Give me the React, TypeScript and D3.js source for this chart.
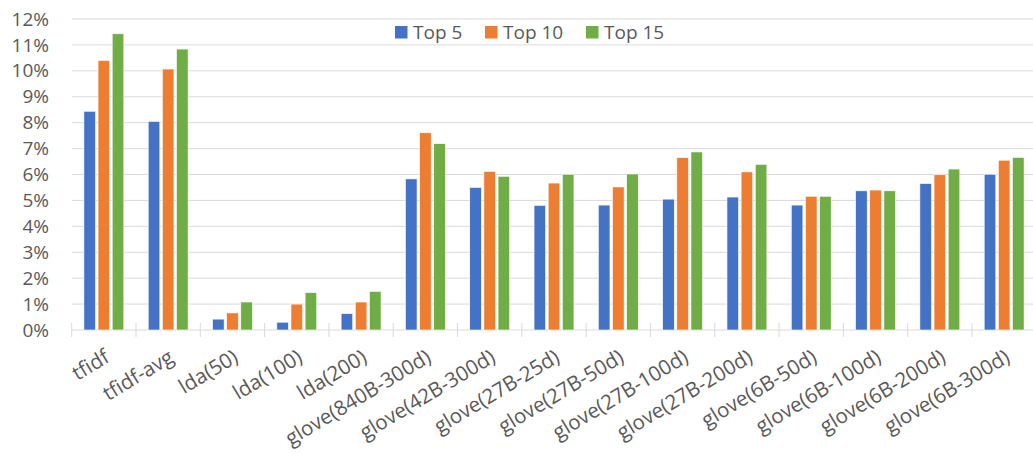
import React from "react";
import * as d3 from "d3";

const categories = [
  "tfidf", "tfidf-avg", "lda(50)", "lda(100)", "lda(200)",
  "glove(840B-300d)", "glove(42B-300d)", "glove(27B-25d)", "glove(27B-50d)",
  "glove(27B-100d)", "glove(27B-200d)", "glove(6B-50d)", "glove(6B-100d)",
  "glove(6B-200d)", "glove(6B-300d)",
];
const seriesNames = ["Top 5", "Top 10", "Top 15"];
const top5 = [8.44, 8.05, 0.42, 0.30, 0.63, 5.83, 5.50, 4.81, 4.82, 5.05, 5.13, 4.82, 5.37, 5.65, 6.01];
const top10 = [10.40, 10.07, 0.66, 1.00, 1.08, 7.61, 6.12, 5.67, 5.52, 6.65, 6.10, 5.16, 5.40, 5.99, 6.55];
const top15 = [11.43, 10.84, 1.08, 1.44, 1.49, 7.19, 5.93, 6.01, 6.02, 6.87, 6.39, 5.16, 5.37, 6.21, 6.66];
const yTicks = [0, 1, 2, 3, 4, 5, 6, 7, 8, 9, 10, 11, 12];
const colors = ["#4472C4", "#ED7D31", "#70AD47"];

const W = 1033;
const H = 455;
const left = 71.7;
const right = 1036.3;
const top = 19;
const bottom = 330;
const font = "'Open Sans', sans-serif";
const textColor = "#595959";
const gridColor = "#d9d9d9";

export default function App() {
  const values = [top5, top10, top15];
  const x0 = d3.scaleBand<string>().domain(categories).range([left, right]).padding(0);
  const x1 = d3.scaleBand<string>().domain(seriesNames).range([-19.95, 19.95]).paddingInner(0.18);
  const y = d3.scaleLinear().domain([0, 12]).range([bottom, top]);

  const legendX = [395, 485, 586];

  return (
    <svg width={W} height={H} style={{ position: "absolute", left: 0, top: 0, background: "#fff" }}>
      {yTicks.map((t) => (
        <g key={t}>
          <line x1={left} x2={W} y1={y(t)} y2={y(t)} stroke={gridColor} strokeWidth={1} />
          <text x={49} y={y(t)} dy="0.35em" textAnchor="end" fontFamily={font} fontSize={19} fill={textColor}>
            {t}%
          </text>
        </g>
      ))}
      {categories.map((c, i) => (
        <line key={"tk" + i} x1={x0(c)!} x2={x0(c)!} y1={bottom - 7} y2={bottom + 7} stroke={gridColor} strokeWidth={1} />
      ))}
      {categories.map((c, i) =>
        seriesNames.map((s, j) => {
          const cx = x0(c)! + x0.bandwidth() / 2 + x1(s)!;
          const v = values[j][i];
          return (
            <rect
              key={c + s}
              x={cx}
              y={y(v)}
              width={x1.bandwidth()}
              height={bottom - y(v)}
              fill={colors[j]}
              stroke="#fff"
              strokeWidth={0.6}
            />
          );
        })
      )}
      {categories.map((c) => {
        const cx = x0(c)! + x0.bandwidth() / 2 + 7;
        return (
          <text
            key={"lbl" + c}
            transform={`translate(${cx},${361}) rotate(-31)`}
            textAnchor="end"
            fontFamily={font}
            fontSize={20.5}
            fill={textColor}
          >
            {c}
          </text>
        );
      })}
      {seriesNames.map((s, j) => (
        <g key={"lg" + s}>
          <rect x={legendX[j]} y={26} width={12.5} height={12.5} fill={colors[j]} />
          <text x={legendX[j] + 18} y={32.5} dy="0.35em" fontFamily={font} fontSize={19} fill={textColor}>
            {s}
          </text>
        </g>
      ))}
    </svg>
  );
}
